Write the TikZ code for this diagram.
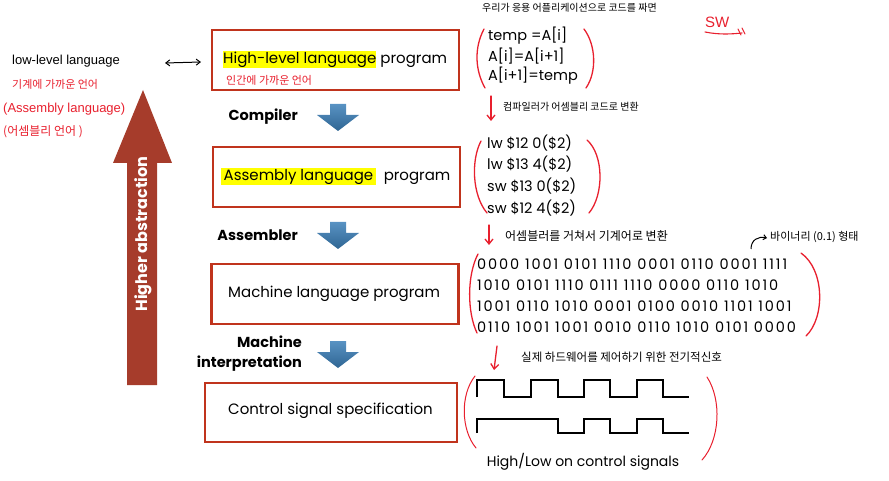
\documentclass[tikz,border=0pt]{standalone}
\usepackage{fontspec}
\setmainfont{Poppins}
\newfontfamily\kr{Noto Sans CJK KR}
\newfontfamily\handfont{Liberation Sans}
\newfontfamily\bitsfont[LetterSpace=13]{Poppins}
\usetikzlibrary{arrows.meta}
\definecolor{boxred}{HTML}{C0341D}
\definecolor{penred}{HTML}{E8202E}
\definecolor{arrowblue}{HTML}{3B7FB8}
\definecolor{abstraction}{HTML}{A63C2B}
\definecolor{hilite}{HTML}{FFFF00}
\newcommand{\hl}[1]{{\setlength{\fboxsep}{0pt}\colorbox{hilite}{\strut #1}}}
\begin{document}
\begin{tikzpicture}[x=1pt,y=-1pt,
  stage/.style={draw=boxred, line width=2.3pt, minimum width=247pt, minimum height=60pt, inner sep=0pt},
  stagetext/.style={anchor=west, inner sep=0pt, font=\fontsize{15}{17}\selectfont},
  steplabel/.style={inner sep=0pt, font=\fontsize{14.5}{18}\selectfont\bfseries},
  code/.style={anchor=west, inner sep=0pt, font=\fontsize{14.5}{17}\selectfont},
  bits/.style={anchor=west, inner sep=0pt, font=\bitsfont\fontsize{14.5}{17}\selectfont},
  note/.style={anchor=west, inner sep=0pt, font=\kr\fontsize{10}{12}\selectfont},
  rednote/.style={anchor=west, inner sep=0pt, text=penred, font=\kr\fontsize{11}{13}\selectfont},
  pen/.style={draw=penred, line width=1.3pt, line cap=round},
  penarrow/.style={pen, -{Straight Barb[length=5pt,width=8pt]}},
  wave/.style={draw=black, line width=2.2pt, line join=miter},
  flow/.pic={\shade[top color=arrowblue!85!white, bottom color=arrowblue!80!black]
     (-8,0) -- (8,0) -- (8,11) -- (21,11) -- (0,27) -- (-21,11) -- (-8,11) -- cycle;}
]
\useasboundingbox (0,0) rectangle (889,481);

% ---- stages ----
\node[stage] (hll) at (335.5,60) {};
\node[stagetext] (hlltext) at (223,60) {\hl{High-level language} program};
\node[rednote] (hllnote) at (226,80) {인간에 가까운 언어};

\node[stage] (asm) at (336.5,177) {};
\node[stagetext] (asmtext) at (221,177) {\hl{\,Assembly language\,}\ \ program};

\node[stage] (mach) at (335,294) {};
\node[stagetext] (machtext) at (228,294) {Machine language program};

\node[stage, minimum width=252pt, minimum height=59pt] (ctrl) at (331,412.5) {};
\node[stagetext] (ctrltext) at (228,411) {Control signal specification};

% ---- translation steps ----
\node[steplabel, anchor=east] (compiler) at (298,117) {Compiler};
\pic at (338,104) {flow};
\node[steplabel, anchor=east] (assembler) at (298,235) {Assembler};
\pic at (338,222) {flow};
\node[steplabel, anchor=east] (machine) at (302,342) {Machine};
\node[steplabel, anchor=east] (interp) at (302,364) {interpretation};
\pic at (338,341) {flow};

% ---- abstraction arrow ----
\fill[abstraction] (127,385) -- (127,163) -- (113,163) -- (143,90) -- (172,163) -- (157,163) -- (157,385) -- cycle;
\node[rotate=90, text=white, inner sep=0pt, font=\fontsize{16}{18}\selectfont\bfseries] (higher) at (143,234) {Higher abstraction};

% ---- low-level language notes ----
\node[anchor=west, inner sep=0pt, font=\handfont\fontsize{13}{15}\selectfont] (lowlevel) at (12,61) {low-level language};
\coordinate (lla) at (165,63);
\coordinate (llb) at (201,62);
\draw[line width=1pt, {Straight Barb[length=4pt,width=6pt]}-{Straight Barb[length=4pt,width=6pt]}] (lla) -- (llb);
\node[rednote] (machnote) at (12,84) {기계에 가까운 언어};
\node[anchor=west, inner sep=0pt, text=penred, font=\handfont\fontsize{13}{15}\selectfont] (asmnote) at (3,109) {(Assembly language)};
\node[rednote, font=\kr\fontsize{12}{14}\selectfont] (asmkr) at (3,132) {(어셈블리 언어 )};

% ---- high-level code ----
\node[note] (topnote) at (482,8) {우리가 응용 어플리케이션으로 코드를 짜면};
\node[code] (c1) at (488,36) {temp =A[i]};
\node[code] (c2) at (488,56) {A[i]=A[i+1]};
\node[code] (c3) at (488,76) {A[i+1]=temp};
\draw[pen] (484,29) .. controls (474,48) and (475,70) .. (485,88);
\draw[pen] (584,29) .. controls (596,45) and (597,72) .. (586,88);

\node[anchor=west, inner sep=0pt, text=penred, font=\handfont\fontsize{15}{17}\selectfont] (sw) at (705,22) {SW};
\draw[pen, line width=1.1pt] (705,32) .. controls (720,35) and (732,34) .. (742,33);
\draw[pen, line width=1pt] (738,29) -- (741,35) (742,28) -- (745,34);

% ---- assembly code ----
\coordinate (r1a) at (491,96);
\coordinate (r1b) at (491,121);
\draw[penarrow] (r1a) -- (r1b);
\node[note] (compnote) at (503,107) {컴파일러가 어셈블리 코드로 변환};
\node[code] (a1) at (487,143) {lw \$12 0(\$2)};
\node[code] (a2) at (487,164) {lw \$13 4(\$2)};
\node[code] (a3) at (487,186) {sw \$13 0(\$2)};
\node[code] (a4) at (487,208) {sw \$12 4(\$2)};
\draw[pen] (481,141) .. controls (471,160) and (472,195) .. (487,213);
\draw[pen] (587,140) .. controls (604,155) and (604,195) .. (589,213);

% ---- machine code ----
\coordinate (r2a) at (489,225);
\coordinate (r2b) at (489,245);
\draw[penarrow] (r2a) -- (r2b);
\node[note, font=\kr\fontsize{12}{14}\selectfont] (asmbnote) at (505,236) {어셈블러를 거쳐서 기계어로 변환};
\coordinate (cva) at (751,249);
\coordinate (cvb) at (767,238);
\draw[line width=1pt, -{Straight Barb[length=3pt,width=5pt]}] (cva) .. controls (751,240) and (758,236) .. (cvb);
\node[note, font=\kr\fontsize{11}{13}\selectfont] (binnote) at (770,237) {바이너리 (0.1) 형태};
\node[bits] (b1) at (477,264) {0000 1001 0101 1110 0001 0110 0001 1111};
\node[bits] (b2) at (477,285) {1010 0101 1110 0111 1110 0000 0110 1010};
\node[bits] (b3) at (477,306) {1001 0110 1010 0001 0100 0010 1101 1001};
\node[bits] (b4) at (477,327) {0110 1001 1001 0010 0110 1010 0101 0000};
\draw[pen] (478,254) .. controls (467,275) and (467,312) .. (477,333);
\draw[pen] (801,253) .. controls (825,270) and (825,318) .. (806,336);

% ---- control signals ----
\coordinate (r3a) at (497,346);
\coordinate (r3b) at (494,370);
\draw[penarrow] (r3a) -- (r3b);
\node[note, font=\kr\fontsize{11.5}{14}\selectfont] (signote) at (521,357) {실제 하드웨어를 제어하기 위한 전기적신호};
\draw[wave] (477,397) -- (477,380) -- (504,380) -- (504,397) -- (531,397) -- (531,380) -- (558,380) -- (558,397)
  -- (584,397) -- (584,380) -- (610,380) -- (610,397) -- (637,397) -- (637,380) -- (663,380) -- (663,397) -- (689,397);
\draw[wave] (477,433) -- (477,419) -- (558,419) -- (558,433)
  -- (584,433) -- (584,419) -- (610,419) -- (610,433) -- (637,433) -- (637,419) -- (663,419) -- (663,433) -- (689,433);
\draw[pen, line width=1pt] (475,376) .. controls (460,395) and (461,430) .. (476,448);
\draw[pen, line width=1pt] (707,377) .. controls (722,400) and (720,440) .. (702,460);
\node[inner sep=0pt, font=\fontsize{14}{16}\selectfont] (hilo) at (583,462) {High/Low on control signals};
\end{tikzpicture}
\end{document}
